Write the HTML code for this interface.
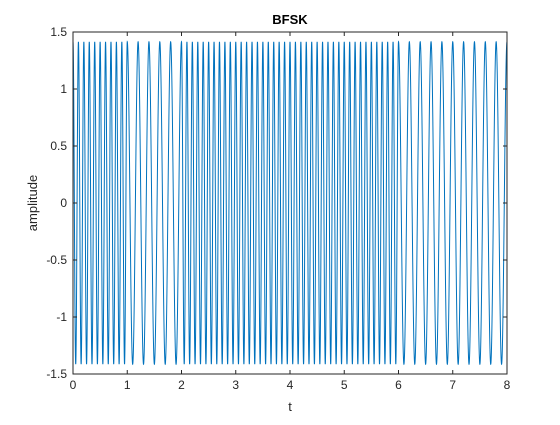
<!DOCTYPE html>
<html><head><meta charset="utf-8"><style>
body{margin:0;background:#fff;font-family:"Liberation Sans",sans-serif;}
svg text{font-family:"Liberation Sans",sans-serif;}
</style></head><body>
<svg id="chart" width="560" height="420">
<rect width="560" height="420" fill="#fff"/>
<rect x="73" y="32" width="434" height="342" fill="#fff"/>
<g id="series"></g>
<g id="axes"></g>
<text x="290" y="24" text-anchor="middle" font-size="13" font-weight="bold" fill="#000">BFSK</text>
<text x="290" y="411" text-anchor="middle" font-size="13" fill="#262626">t</text>
<text transform="translate(37,203) rotate(-90)" text-anchor="middle" font-size="13" fill="#262626">amplitude</text>
</svg>
<script>
// carrier frequency per 1-second bit
const bitFreqs = [10, 5, 10, 10, 10, 10, 5, 5];
const amplitude = 1.4142;
const xTicks = [0,1,2,3,4,5,6,7,8];
const yTicks = [-1.5,-1,-0.5,0,0.5,1,1.5];
const yTickLabels = ["-1.5","-1","-0.5","0","0.5","1","1.5"];

const L=73,R=507,T=32,B=374;
const xs=t=>L+(t-0)/(8-0)*(R-L);
const ys=v=>B-(v+1.5)/3*(B-T);
const NS="http://www.w3.org/2000/svg";
const sg=document.getElementById('series'), ag=document.getElementById('axes');

let d="";
const N=8000;
for(let i=0;i<=N;i++){
  const t=i*8/N;
  const b=Math.min(bitFreqs.length-1,Math.floor(t));
  const v=amplitude*Math.cos(2*Math.PI*bitFreqs[b]*t);
  d+=(i?"L":"M")+xs(t).toFixed(2)+","+ys(v).toFixed(2);
}
const p=document.createElementNS(NS,'path');
p.setAttribute('d',d);p.setAttribute('fill','none');p.setAttribute('stroke','#0072bd');p.setAttribute('stroke-width','1');


sg.appendChild(p);

const box=document.createElementNS(NS,'rect');
box.setAttribute('x',L);box.setAttribute('y',T);box.setAttribute('width',R-L);box.setAttribute('height',B-T);
box.setAttribute('fill','none');box.setAttribute('stroke','#262626');box.setAttribute('stroke-width','1');


ag.appendChild(box);

xTicks.forEach(t=>{
  const x=xs(t);
  [[B,B-4],[T,T+4]].forEach(([a,b2])=>{
    const l=document.createElementNS(NS,'line');
    l.setAttribute('x1',x);l.setAttribute('x2',x);l.setAttribute('y1',a);l.setAttribute('y2',b2);l.setAttribute('stroke','#262626');
    
    
    ag.appendChild(l);
  });
  const tx=document.createElementNS(NS,'text');
  tx.setAttribute('x',x);tx.setAttribute('y',B+15);tx.setAttribute('text-anchor','middle');tx.setAttribute('font-size','12');tx.setAttribute('fill','#262626');
  tx.textContent=String(t);
  
  
  ag.appendChild(tx);
});
yTicks.forEach((v,i)=>{
  const y=ys(v);
  [[L,L+4],[R,R-4]].forEach(([a,b2])=>{
    const l=document.createElementNS(NS,'line');
    l.setAttribute('x1',a);l.setAttribute('x2',b2);l.setAttribute('y1',y);l.setAttribute('y2',y);l.setAttribute('stroke','#262626');
    
    
    ag.appendChild(l);
  });
  const tx=document.createElementNS(NS,'text');
  tx.setAttribute('x',L-6);tx.setAttribute('y',y+4);tx.setAttribute('text-anchor','end');tx.setAttribute('font-size','12');tx.setAttribute('fill','#262626');
  tx.textContent=yTickLabels[i];
  
  
  ag.appendChild(tx);
});
</script>
</body></html>
